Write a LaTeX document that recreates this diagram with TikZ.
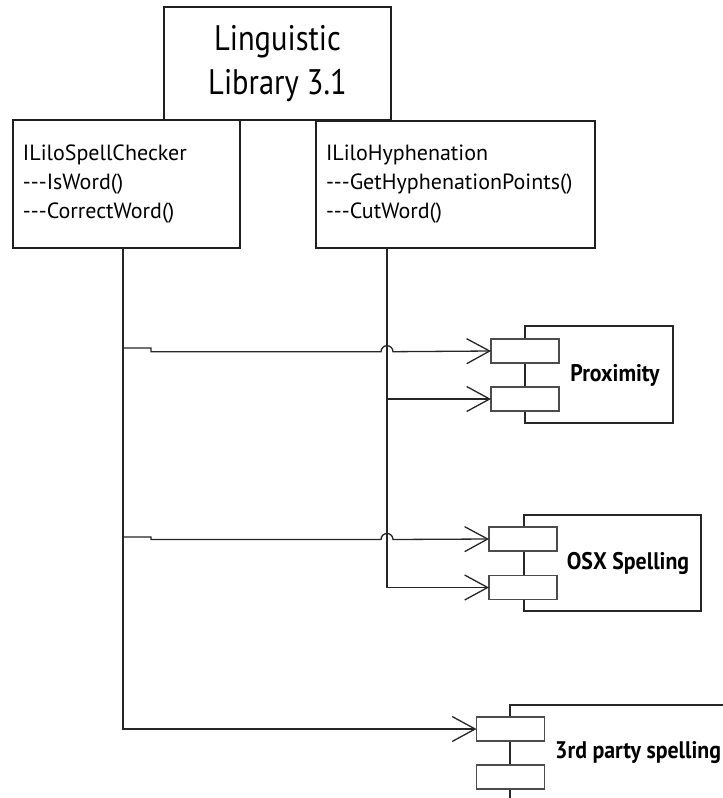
\documentclass[tikz,border=0pt]{standalone}
\usepackage{fontspec}
\setmainfont{PT Sans}
\newfontfamily\titlefont[FakeStretch=0.86]{PT Sans}
\newfontfamily\labelfont[FakeStretch=0.91]{PT Sans}
\usetikzlibrary{arrows.meta}
\tikzset{
  x=1pt, y=-1pt,
  box/.style={draw=black!88, line width=1.7pt, fill=white, inner sep=0pt, outer sep=0pt},
  classbox/.style={box, align=left, inner xsep=10pt, inner ysep=0pt, font=\fontsize{22}{29}\selectfont},
  comp/.style={draw=black!85, line width=1.4pt, fill=white},
  port/.style={draw=black!70, line width=1.5pt, fill=white, minimum width=68pt, minimum height=24pt, inner sep=0pt, outer sep=0pt},
  complabel/.style={font=\labelfont\fontsize{24}{28}\selectfont\bfseries, inner sep=0pt},
  conn/.style={draw=black!85, line width=1.3pt},
  arr/.style={conn, -{Straight Barb[length=23pt, width=25pt, line width=1.3pt]}},
}
\begin{document}
\begin{tikzpicture}
\path[use as bounding box, clip] (0,0) rectangle (723,798);
\fill[white] (0,0) rectangle (723,798);

% library and interfaces
\node[box, minimum width=227pt, minimum height=113pt, align=center,
      font=\titlefont\fontsize{35.5}{44}\selectfont] (lib) at (277.5,63.5) {Linguistic\\Library 3.1};
\node[classbox, minimum width=227pt, minimum height=128pt, text width=207pt] (spell) at (126.5,184)
  {ILiloSpellChecker\\-{}-{}-IsWord()\\-{}-{}-CorrectWord()};
\node[classbox, minimum width=279pt, minimum height=127pt, text width=259pt] (hyph) at (455.5,184.5)
  {ILiloHyphenation\\-{}-{}-GetHyphenationPoints()\\-{}-{}-CutWord()};

% Proximity component
\node[comp, minimum width=148pt, minimum height=97pt] (prox) at (599,374.5) {};
\node[port] (p1a) at (525,351) {};
\node[port] (p1b) at (525,399) {};
\node[complabel] (proxl) at (615,375) {Proximity};

% OSX Spelling component
\node[comp, minimum width=177pt, minimum height=96pt] (osx) at (612.5,563) {};
\node[port] (p2a) at (523,539) {};
\node[port] (p2b) at (523,587.5) {};
\node[complabel] (osxl) at (628,563) {OSX Spelling};

% 3rd party spelling component (runs off the page)
\node[comp, minimum width=240pt, minimum height=140pt] (third) at (630,775) {};
\node[port] (p3a) at (510.5,729) {};
\node[port] (p3b) at (510.5,777) {};
\node[complabel, anchor=west] (thirdl) at (555,753) {3rd party spelling};

% trunks
\coordinate (s1) at (123,348);
\coordinate (s2) at (123,537);
\coordinate (h1) at (387,399);
\draw[arr] ([xshift=-3.5pt]spell.south) |- (p3a.west);
\draw[arr] ([xshift=-68.5pt]hyph.south) |- (p2b.west);
\draw[arr] (h1) -- (p1b.west);

% branches from the spell-checker trunk, jumping over the hyphenation trunk
\draw[arr] (s1) -- ++(28,0) -- ++(0,3.7) -- (381,351.7)
   arc[start angle=180, end angle=0, radius=6pt] -- (p1a.west);
\draw[arr] (s2) -- ++(28,0) -- ++(0,2.5) -- (381,539.5)
   arc[start angle=180, end angle=0, radius=6pt] -- (p2a.west);
\end{tikzpicture}
\end{document}
